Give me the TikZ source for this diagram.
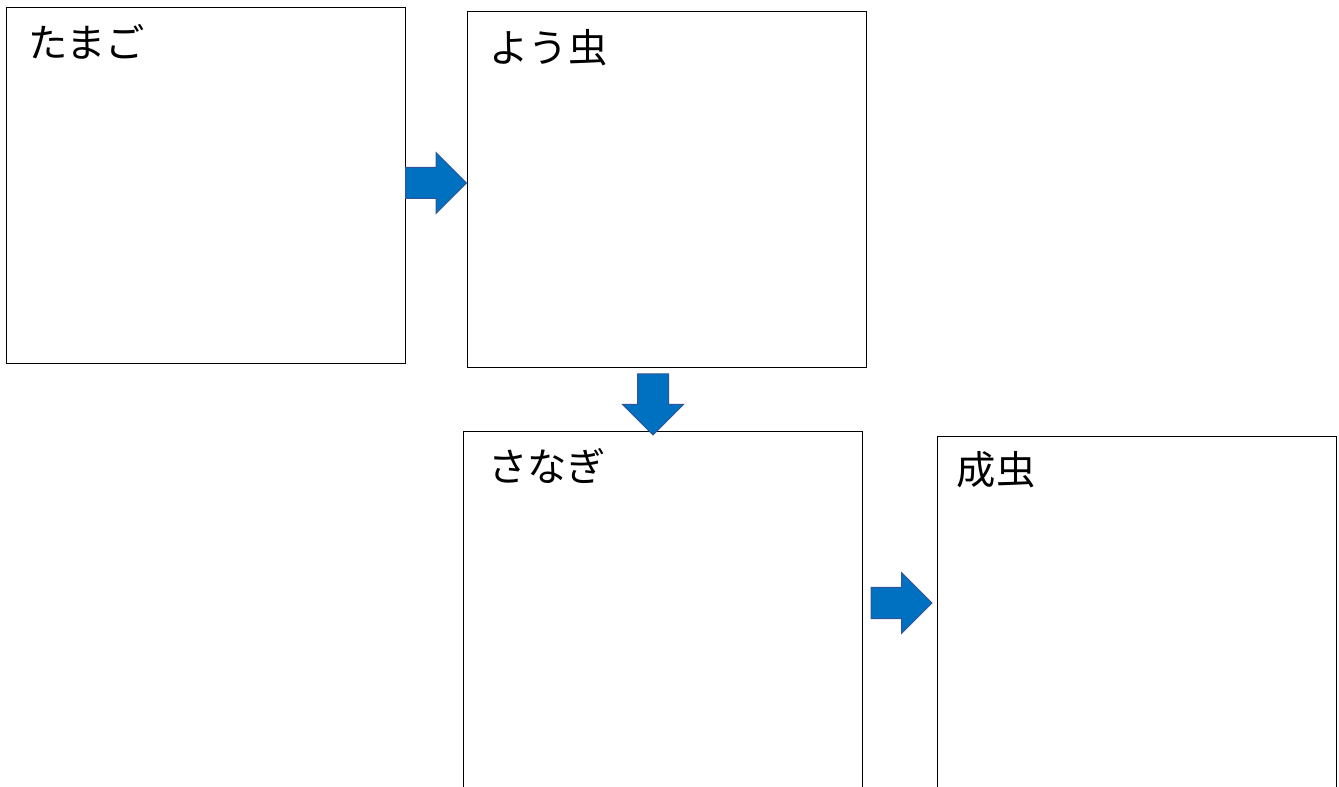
\documentclass[tikz,border=0pt]{standalone}
\usepackage{fontspec}
\newfontfamily\jpfont{Noto Sans CJK JP}
\usetikzlibrary{shapes,shapes.arrows,arrows,positioning}
\definecolor{arrowfill}{HTML}{0070C0}
\definecolor{arrowline}{HTML}{2F5597}

\begin{document}
\begin{tikzpicture}[x=0.75pt,y=-0.75pt,
    stage/.style={draw=black, line width=0.75pt, rectangle, inner sep=0pt,
        minimum width=299.25pt, minimum height=267pt},
    stagename/.style={anchor=west, inner sep=0pt, font=\jpfont\fontsize{29.5}{34}\selectfont},
    fatarrow/.style={single arrow, draw=arrowline, fill=arrowfill, line width=0.75pt,
        inner sep=11.25pt, outer sep=0pt, minimum height=45.75pt,
        single arrow head extend=11.25pt, anchor=tail}]
                \useasboundingbox (0,0) rectangle (1339,787);
                % stages
                \node [stage] (tamago) at (205.5,186) {};
                \node [stage] (youchu) at (666.5,190) {};
                \node [stage] (sanagi) at (662.5,610) {};
                \node [stage] (seichu) at (1136.5,615) {};
                % names
                \node [stagename] (tamagoname) at ([xshift=17pt, yshift=-25.5pt]tamago.north west) {たまご};
                \node [stagename] (youchuname) at ([xshift=17pt, yshift=-27pt]youchu.north west) {よう虫};
                \node [stagename] (sanaginame) at ([xshift=19pt, yshift=-25.5pt]sanagi.north west) {さなぎ};
                \node [stagename] (seichuname) at ([xshift=15pt, yshift=-25pt]seichu.north west) {成虫};
                % arrows
                \node [fatarrow] (tosecond) at (405.5,183) {};
                \node [fatarrow, shape border rotate=270] (tothird) at (653,374) {};
                \node [fatarrow] (tofourth) at (871,603) {};
\end{tikzpicture}
\end{document}
